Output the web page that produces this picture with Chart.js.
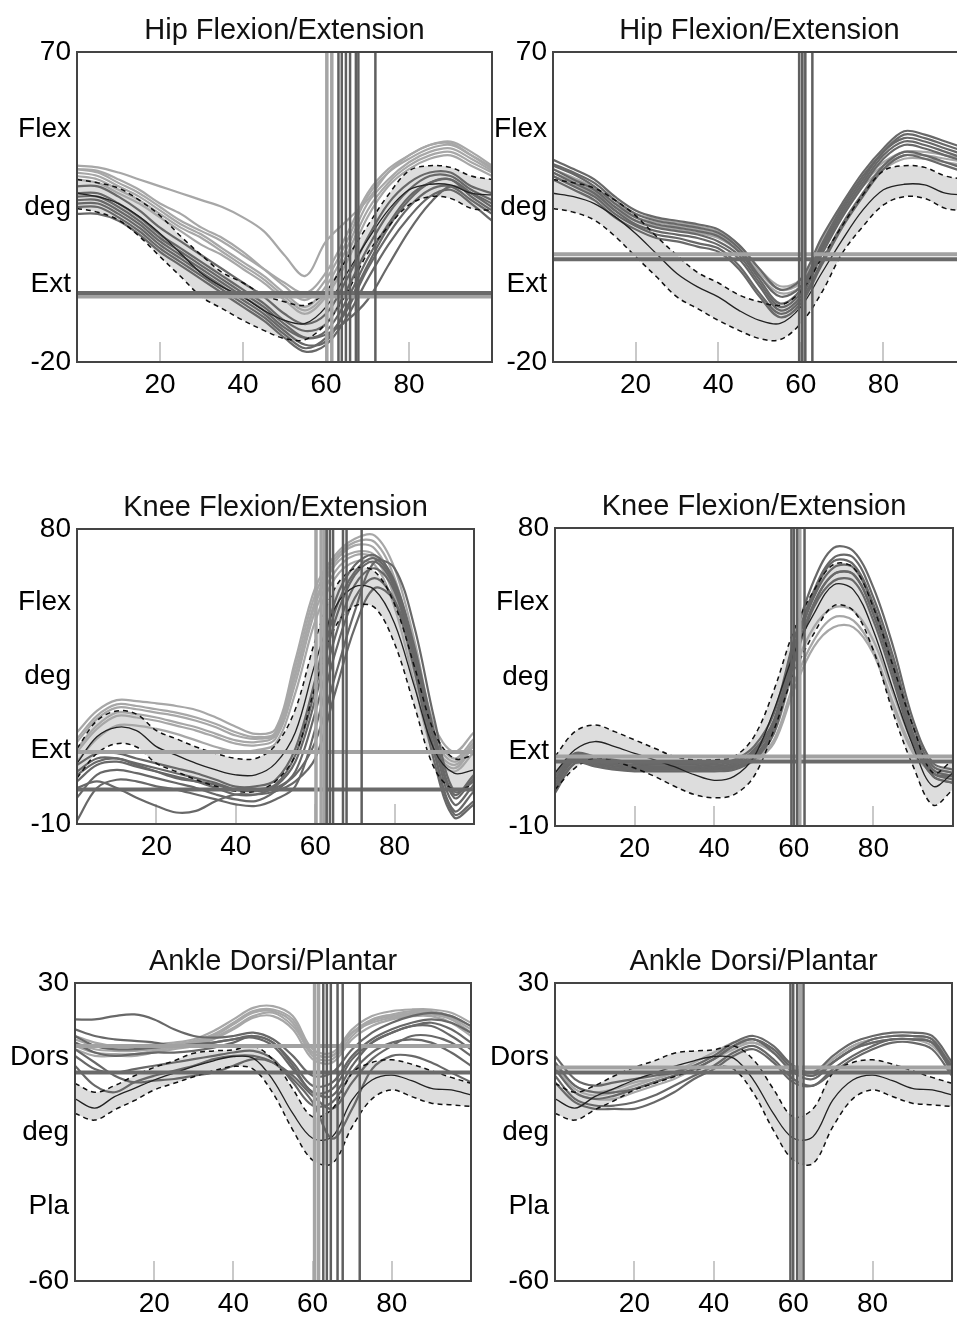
<!DOCTYPE html>
<html>
<head>
<meta charset="utf-8">
<script src="https://cdn.jsdelivr.net/npm/chart.js@4.4.0/dist/chart.umd.min.js"></script>
<style>
html, body { margin: 0; padding: 0; background: #fff; width: 957px; height: 1318px; overflow: hidden; position: relative; }
canvas { position: absolute; }
</style>
</head>
<body>
<canvas id="c1"></canvas>
<canvas id="c2"></canvas>
<canvas id="c3"></canvas>
<canvas id="c4"></canvas>
<canvas id="c5"></canvas>
<canvas id="c6"></canvas>
<script>
// % gait cycle, one sample every 5%
var pct = [0,5,10,15,20,25,30,35,40,45,50,55,60,65,70,75,80,85,90,95,100]
var xTicks = [20,40,60,80]

var hipTickLabels = ['70','Flex','deg','Ext','-20']
var kneeTickLabels = ['80','Flex','deg','Ext','-10']
var ankleTickLabels = ['30','Dors','deg','Pla','-60']

// normal bands
var hipNormMean  = [29,28,26,22.2,17.3,11.5,5.7,1.8,-1.1,-5,-7.9,-8.8,-4,5.7,15.4,24.1,30,31.6,31.4,29,28.5]
var hipNormUpper = [33,32,30.5,27,22.5,16.5,11,6,3,-0.5,-2.5,-3.5,0.5,10,19.5,28.5,35.5,37,36.5,34,33]
var hipNormLower = [24.6,23.5,21.2,16.5,10.6,4.8,-1.1,-4.5,-7.9,-10.8,-13.2,-13.5,-8.8,0,11.5,19.3,25.6,28,27.5,24.6,24]

var kneeLeftNormMean  = [8.5,16.6,19.5,18.5,13.6,11,8.5,6.5,5,5,8.5,18,39,56,62.4,61.4,51.2,31.9,12.6,5.5,6.5]
var kneeLeftNormUpper = [13,21.5,24.5,23.5,18.5,16,13.5,11.5,10,10,14,25,46,62,68,67,57,38,18,10,11]
var kneeLeftNormLower = [4,11.5,14.5,13.5,8.5,6,3.5,1.5,0,0,3,11,32,50,56.5,56,45,26,7,0.5,2]

var kneeRightNormMean  = [6,13,15.5,14,11.9,10,7.9,5.5,3.8,5,10.9,25,42,54,62.8,61.3,49,31,14,2,6]
var kneeRightNormUpper = [11,18.5,20.5,18.5,16,13.5,11,10,10,11,17,31,49,61,69,68,56,38,20,6,10]
var kneeRightNormLower = [1,7.5,10.5,9.5,7.5,5,2,-0.5,-1.5,-0.5,5,19,36,48,56.5,55,43,24,8,-3.7,1]

var ankleNormMean  = [-5,-7.8,-4.3,-1.8,0.7,2.8,4.8,6.5,7.8,7.3,0.7,-9.4,-16.9,-16.4,-5.3,0.7,2.2,0.5,-1.8,-2.3,-3.8]
var ankleNormUpper = [-0.3,-3,-1,2,4.5,6.5,8.8,9.5,9.8,11,6.8,-2,-10.4,-8,2.8,6,6.8,5.5,3.5,1.5,-0.3]
var ankleNormLower = [-9.4,-11.4,-8.3,-5.5,-2.3,-0.3,1.7,3.5,4.8,4,-3.3,-14.4,-23.5,-24.5,-13.4,-5,-2.3,-4.3,-6.3,-6.8,-7.3]

// patient trials, left column
var hipLeftLight = [
  [37,36.5,35,33,31,29,27,25,22,18,11,5,15,21,27,35,40,43,44,41,37],
  [36,35.5,33,30,26,23,19,16,12,7,2,-2,4,15,28,35,39,42,43,40,36.5],
  [35,34,31,28,24,20,17,13,9,5,0,-4,2,13,26,33,38,41,42,39,35.5],
  [34,33,30,27,23,19,16,12,8,4,-1,-5,0,11,24,32,37,40,41,38,35],
  [33,32,29,26,22,18,14,11,7,3,-2,-6,-1,9,22,31,36,39,40,37,34],
  [36,35,32,29,25,21,18,15,11,7,3,0,6,17,29,36,40,43,43.5,40,36]
]
var hipLeftDark = [
  [31,31,28,24,19,15,11,7,3,-1,-6,-9,-6,4,16,26,32,35,35,31,29],
  [29,29,26,22,17,13,9,5,1,-3,-8,-11,-9,1,13,23,30,34,34,30,27],
  [27,27,24,20,15,11,7,3,-1,-5,-10,-13,-11,-2,10,20,28,32,33,29,25],
  [25,25,22,18,13,9,5,1,-3,-7,-12,-16,-13,-5,7,17,25,30,31,27,23],
  [23,23,21,17,12,8,4,0,-4,-8,-13,-17,-15,-7,4,14,22,28,30,26,21],
  [28,28,25,21,16,12,8,4,0,-4,-9,-13,-12,-8,-2,8,18,26,31,29,26],
  [26,26,23,19,14,10,6,2,-2,-6,-11,-15,-14,-4,8,19,27,32,33,28,24]
]
var kneeLeftLight = [
  [18,24.5,27.8,27.5,26.8,26,24.8,22.5,19.7,17.5,19,40,62,72,77,78,68,46,20,12,18],
  [15,22,25.5,25,24,23,21.5,19.5,17,16,17.5,36,58,70,75,74,62,40,16,9,15],
  [12,19,23,22.5,21.5,20,18.5,16.5,14.5,14,16,33,55,67,72,71,59,36,13,7,14],
  [9,16,20,20,19,17.5,15.5,13.5,12,12.5,14.5,30,52,65,70,69,56,33,11,6,12],
  [16,23,26.5,26,25,24,22.5,20.5,18,16.5,18,38,60,71,76,76,65,43,18,10,16],
  [13,20,24,23.5,22.5,21,19.5,17.5,15.5,15,17,35,57,69,73,72,60,38,14,8,14]
]
var kneeLeftDark = [
  [8,11.5,11.6,10,8.5,7,5.5,3.5,1.4,1.5,3.4,13,34,58,69,72,64,44,18,-1,5],
  [3,8,9,7.5,6,4.5,3,1,-1,-1,1.5,9,28,52,66,70,62,42,15,-4,2],
  [-2,5,6.5,5.5,4,2.5,1,-1,-2.5,-3,0,6,24,47,63,68,61,40,12,-6,0],
  [-9,1,3.5,3,1.5,0.5,-1,-2.5,-4,-4.5,-2.5,1.5,19,42,59,65,58,37,9,-8,-4],
  [1,3,1,-2,-4.5,-6.5,-6,-3,-1,-1,0,3,10,30,50,62,58,40,12,-7,-3],
  [5,9,10,8,6,4,3,2,0.5,0,1,5,15,35,55,70,68,50,22,0,3],
  [6,10,10,8.5,7,5.5,4,2.5,0.5,0.5,2,11,31,55,67,71,63,43,17,-2,4]
]
var ankleLeftLight = [
  [14,12,11,11,11.5,12,13,15.5,19,22.5,23,20,10,9,16,20,21.5,22,22,21,18],
  [12,10,9.5,9.5,10,11,12,14,17.5,21,21.5,18,8,7,14,18.5,20,21,21,19.5,16],
  [10,8,8,8,9,10,11,13,16,19.5,20,16,7,6,13,17,19,20,20,18,14],
  [11,9,8.5,8.5,9.5,10.5,11.5,13.5,16.5,20,21,17,9,8,15,18,19.5,20.5,20.5,19,15],
  [13,11,10,10,10.5,11.5,12.5,14.5,18,21.5,22,19,9,8,15,19,20.5,21.5,21.5,20,17]
]
var ankleLeftDark = [
  [19,19,20,20.5,19,16,14,13.5,14,15,13,8,2,3,10,15,18,20,21,20,17],
  [16,14,13,12.5,12,11,11,12,13,14,12,6,-1,0,8,13,16,18,19,18,15],
  [12,9,8,8.5,9,9,9.5,10.5,12,14,12,5,-3,-2,7,12,15,17,17,14,10],
  [8,4,3,4,5,6,7,8,9,9.5,7,0,-7,-6,3,9,12,13,12,9,5],
  [5,-1,-3,0,2,3.5,5,7,8,8,6,1,-6,-17,-8,4,8,8,6,3,0],
  [10,6,2,0,0.5,1,2,3,5,7,6,2,-4,-8,0,7,11,14,14,12,8],
  [14,11,10,10,10.5,11,11.5,12,13,13.5,11,4,-3,-4,5,12,15,17,18,16,12]
]

// patient trials, right column
var hipRightLight = [
  [36,33.5,30.5,26,23,21.5,20.5,19.5,18,14,7,2,4,15,25,33,38,41,41,40,39],
  [35,32.5,29.5,25,22,20.5,19.5,18.5,17,13,6,1,3,14,24,32,37,40,40,39,38],
  [34,31.5,28.5,24,21,19.5,18.5,17.5,16,12,5,0,2,13,23,31,36,39,39,38,37]
]
var hipRightDark = [
  [38.7,36,33,28,24,22,21,20,18.5,14,7,1,4,16,26,35,42,47,46,44,42],
  [37,34.5,31,26,22,20,19,18,16.5,12,4,-3,1,13,24,33,41,45,44,42,40],
  [35,32,29,24,20,18,17,16,14,10,2,-5,-1,11,22,31,39,43,42,40,38],
  [34,31,28,23,19.5,17,16,14.5,13,8,0,-6,-2,9,20,29,37,41,40,38,36],
  [36,33,30,25,21,19,18,17,15,11,3,-4,0,12,23,32,40,44,43,41,39],
  [37.5,35,32,27,23,21,20,19,17.5,13,5,-1,2,14,25,34,41,46,45,43,41],
  [33,30,27,22,18.5,16,15,13.5,12,7,-1,-7,-3,8,19,28,36,40,39,37,35]
]
var kneeRightLight = [
  [4,10,9.5,8.5,8,8,8,8,8,8.5,11,18,37,50,56,55,46,30,15,8,6],
  [3,9.5,9,8,7.5,7.5,7.5,7.5,7.5,8,10,16,33,46,53,52,43,27,13,7,5],
  [2,9,8.5,7.5,7,7,7,7,7,7.5,9.5,15,31,44,50,50,42,26,12,6,4]
]
var kneeRightDark = [
  [5,11.5,10.5,9.5,9.5,9.5,9.4,9,9,10,14,24,46,64,74,73,62,44,22,9,7],
  [4,11,10,9,8.5,8.5,8.5,8.5,8,9,13,22,44,61,71,71,59,41,20,8,6],
  [2,10,9,8,7.5,7.5,7.5,7.5,7.5,8,11,20,42,59,68,68,56,38,17,6,4],
  [0,9,8,7,6.5,6.5,6.5,6.5,6.5,7,10,18,39,56,64,64,52,34,15,5,3],
  [6,12,11,10,9,9,9,9,8.5,9.5,12.5,21,40,57,66,66,54,36,16,6,5],
  [3,10.5,9.5,8.5,8,8,8,8,7.5,8.5,12,21,43,60,70,69,57,39,18,7,5],
  [1,9,8.5,7.5,7,7,7,7,7,7.5,10.5,19,40,57,66,66,54,36,16,5,3]
]
var ankleRightLight = [
  [6,-1,-3,-2,0,1,3,5,8,11,12,9,4,3,7,11,13,14,14,13,5],
  [5,-2,-4,-3,-1,1,3,6,9,12,13,10,5,2,7,11,13,14,14,12,5],
  [4,-3,-5,-5,-3,-1,1,4,7,10,12,9,4,2,6,10,12,13,13,11,4]
]
var ankleRightDark = [
  [8,1,-1,0,1,2,3,5,8,12,14,11,5,3,8,12,14,15,15,14,6],
  [4,-3,-5,-4,-2,0,2,4,7,11,13,9,3,1,6,10,13,14,14,13,4],
  [2,-5,-7,-7,-6,-4,-1,2,5,9,11,7,1,-1,4,8,11,13,13,12,3],
  [0,-6,-8,-8,-8,-6,-3,1,4,8,10,6,0,-1,3,7,10,12,12,10,2],
  [6,-1,-3,-3,-2,0,2,4,7,11,13,10,4,2,6,10,12,13,13,12,5]
]

// toe-off events (% cycle) and reference levels (deg)
var hipLeftToeOffLight = [60.2,61.4]
var hipLeftToeOffDark = [63.0,63.8,64.8,65.8,67.2,67.8,71.9]
var hipRightToeOffLight = [60.7]
var hipRightToeOffDark = [59.6,60.3,61.1,62.8]
var kneeLeftToeOffLight = [60.2,61.5,62.4]
var kneeLeftToeOffDark = [62.9,63.7,64.5,67.0,67.9,71.7]
var kneeRightToeOffLight = [61.5]
var kneeRightToeOffDark = [59.4,60.0,60.8,62.7]
var ankleLeftToeOffLight = [60.5,61.5]
var ankleLeftToeOffDark = [62.7,63.6,64.6,66.3,67.6,71.9]
var ankleRightToeOffLight = [61.8]
var ankleRightToeOffDark = [59.3,60.0,61.0,62.6]

var hipLeftLevelLight = [-1], hipLeftLevelDark = [0]
var hipRightLevelLight = [11.3], hipRightLevelDark = [9.8]
var kneeLeftLevelLight = [12], kneeLeftLevelDark = [0.5]
var kneeRightLevelLight = [11], kneeRightLevelDark = [9.5]
var ankleLeftLevelLight = [11], ankleLeftLevelDark = [3]
var ankleRightLevelLight = [4.5], ankleRightLevelDark = [3]

var LIGHT = '#a7a7a7'
var DARK = '#686868'

Chart.defaults.font.family = '"Liberation Sans", Arial, sans-serif'
Chart.defaults.color = '#000'

var panels = [
  {id:'c1', l:77, t:52, r:492, b:362, title:'Hip Flexion/Extension', min:-20, max:70, labels:hipTickLabels,
   mean:hipNormMean, upper:hipNormUpper, lower:hipNormLower, light:hipLeftLight, dark:hipLeftDark,
   vLight:hipLeftToeOffLight, vDark:hipLeftToeOffDark, hLight:hipLeftLevelLight, hDark:hipLeftLevelDark},
  {id:'c2', l:553, t:52, r:966, b:362, title:'Hip Flexion/Extension', min:-20, max:70, labels:hipTickLabels,
   mean:hipNormMean, upper:hipNormUpper, lower:hipNormLower, light:hipRightLight, dark:hipRightDark,
   vLight:hipRightToeOffLight, vDark:hipRightToeOffDark, hLight:hipRightLevelLight, hDark:hipRightLevelDark},
  {id:'c3', l:77, t:529, r:474, b:824, title:'Knee Flexion/Extension', min:-10, max:80, labels:kneeTickLabels,
   mean:kneeLeftNormMean, upper:kneeLeftNormUpper, lower:kneeLeftNormLower, light:kneeLeftLight, dark:kneeLeftDark,
   vLight:kneeLeftToeOffLight, vDark:kneeLeftToeOffDark, hLight:kneeLeftLevelLight, hDark:kneeLeftLevelDark},
  {id:'c4', l:555, t:528, r:953, b:826, title:'Knee Flexion/Extension', min:-10, max:80, labels:kneeTickLabels,
   mean:kneeRightNormMean, upper:kneeRightNormUpper, lower:kneeRightNormLower, light:kneeRightLight, dark:kneeRightDark,
   vLight:kneeRightToeOffLight, vDark:kneeRightToeOffDark, hLight:kneeRightLevelLight, hDark:kneeRightLevelDark},
  {id:'c5', l:75, t:983, r:471, b:1281, title:'Ankle Dorsi/Plantar', min:-60, max:30, labels:ankleTickLabels,
   mean:ankleNormMean, upper:ankleNormUpper, lower:ankleNormLower, light:ankleLeftLight, dark:ankleLeftDark,
   vLight:ankleLeftToeOffLight, vDark:ankleLeftToeOffDark, hLight:ankleLeftLevelLight, hDark:ankleLeftLevelDark},
  {id:'c6', l:555, t:983, r:952, b:1281, title:'Ankle Dorsi/Plantar', min:-60, max:30, labels:ankleTickLabels,
   mean:ankleNormMean, upper:ankleNormUpper, lower:ankleNormLower, light:ankleRightLight, dark:ankleRightDark,
   vLight:ankleRightToeOffLight, vDark:ankleRightToeOffDark, hLight:ankleRightLevelLight, hDark:ankleRightLevelDark}
]

var AXIS_W = 75, TITLE_H = 52, XAXIS_H = 45, PAD_R = 4
var TITLE_SIZE = 29

function pts(arr){
  return pct.map(function(x, i){ return {x: x, y: arr[i]} })
}

function curve(arr, color, width){
  return {data: pts(arr), borderColor: color, borderWidth: width, pointRadius: 0, tension: 0.35, fill: false}
}

// frame box and the short grey tick marks at the bottom of the plot
var framePlugin = {
  id: 'frame',
  beforeDatasetsDraw: function(chart){
    var ctx = chart.ctx, a = chart.chartArea, xs = chart.scales.x
    ctx.save()
    ctx.strokeStyle = '#c9c9c9'
    ctx.lineWidth = 2
    xTicks.forEach(function(v){
      var px = Math.round(xs.getPixelForValue(v))
      ctx.beginPath()
      ctx.moveTo(px, a.bottom)
      ctx.lineTo(px, a.bottom - 20)
      ctx.stroke()
    })
    ctx.restore()
  },
  afterDatasetsDraw: function(chart){
    var ctx = chart.ctx, a = chart.chartArea
    ctx.save()
    ctx.strokeStyle = '#444'
    ctx.lineWidth = 2
    ctx.strokeRect(a.left, a.top, a.right - a.left, a.bottom - a.top)
    ctx.restore()
  }
}

panels.forEach(function(p){
  var cv = document.getElementById(p.id)
  var w = p.r - p.l + AXIS_W + PAD_R
  var h = p.b - p.t + TITLE_H + XAXIS_H
  cv.width = w
  cv.height = h
  cv.style.left = (p.l - AXIS_W) + 'px'
  cv.style.top = (p.t - TITLE_H) + 'px'
  cv.style.width = w + 'px'
  cv.style.height = h + 'px'

  var ds = []
  p.light.forEach(function(c){ ds.push(curve(c, LIGHT, 2.2)) })
  p.dark.forEach(function(c){ ds.push(curve(c, DARK, 2.2)) })
  // normal band: lower then upper filled to it
  ds.push({data: pts(p.lower), borderColor: '#111', borderWidth: 1.5, borderDash: [5,4], pointRadius: 0, tension: 0.35, fill: false})
  ds.push({data: pts(p.upper), borderColor: '#111', borderWidth: 1.5, borderDash: [5,4], pointRadius: 0, tension: 0.35,
           fill: '-1', backgroundColor: 'rgba(215,215,215,0.85)'})
  ds.push({data: pts(p.mean), borderColor: '#222', borderWidth: 1.3, pointRadius: 0, tension: 0.35, fill: false})
  p.hLight.forEach(function(v){
    ds.push({data: [{x:0, y:v}, {x:100, y:v}], borderColor: '#a2a2a2', borderWidth: 4, pointRadius: 0, fill: false})
  })
  p.hDark.forEach(function(v){
    ds.push({data: [{x:0, y:v}, {x:100, y:v}], borderColor: '#6a6a6a', borderWidth: 4, pointRadius: 0, fill: false})
  })
  p.vLight.forEach(function(v){
    ds.push({data: [{x:v, y:p.min}, {x:v, y:p.max}], borderColor: '#a5a5a5', borderWidth: 3.5, pointRadius: 0, fill: false})
  })
  p.vDark.forEach(function(v){
    ds.push({data: [{x:v, y:p.min}, {x:v, y:p.max}], borderColor: '#5f5f5f', borderWidth: 2.5, pointRadius: 0, fill: false})
  })
  // later datasets drawn on top
  ds.forEach(function(d, i){ d.order = -i })

  var c = 21
  var lh = TITLE_SIZE * 1.2
  new Chart(cv.getContext('2d'), {
    type: 'line',
    data: {datasets: ds},
    plugins: [framePlugin],
    options: {
      responsive: false,
      animation: false,
      devicePixelRatio: 1,
      events: [],
      layout: {padding: {left: 0, right: PAD_R, top: 0, bottom: 0}},
      plugins: {
        legend: {display: false},
        tooltip: {enabled: false},
        filler: {drawTime: 'beforeDatasetsDraw'},
        title: {
          display: true,
          text: p.title,
          fullSize: false,
          color: '#111',
          font: {size: TITLE_SIZE, weight: 'normal'},
          padding: {top: TITLE_H - lh - (c - lh / 2), bottom: c - lh / 2}
        }
      },
      scales: {
        x: {
          type: 'linear', min: 0, max: 100,
          afterBuildTicks: function(s){ s.ticks = xTicks.map(function(v){ return {value: v} }) },
          afterFit: function(s){ s.height = XAXIS_H },
          grid: {display: false, drawTicks: false},
          border: {display: false},
          ticks: {autoSkip: false, maxRotation: 0, padding: 6, color: '#000', font: {size: 28}}
        },
        y: {
          min: p.min, max: p.max,
          afterBuildTicks: function(s){
            s.ticks = [0,1,2,3,4].map(function(i){ return {value: p.min + i * (p.max - p.min) / 4} })
          },
          afterFit: function(s){ s.width = AXIS_W },
          grid: {display: false, drawTicks: false},
          border: {display: false},
          ticks: {
            autoSkip: false, padding: 6, color: '#000', font: {size: 28},
            callback: function(v, i){ return p.labels[4 - i] }
          }
        }
      }
    }
  })
})
</script>
</body>
</html>
